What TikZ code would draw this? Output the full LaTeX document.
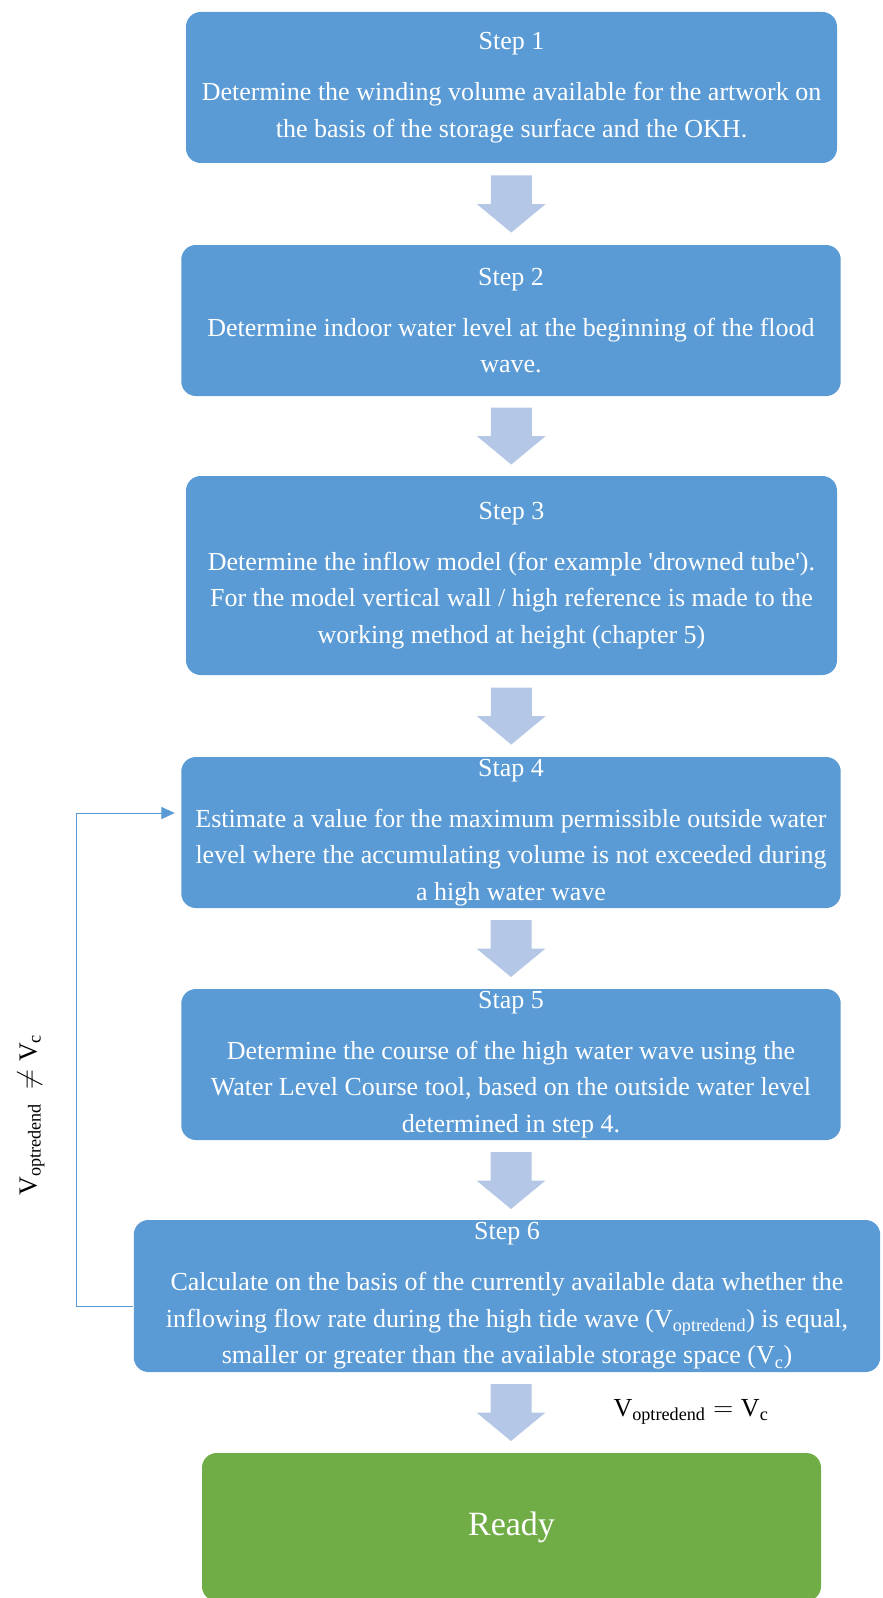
\documentclass[tikz,border=0pt]{standalone}
\usepackage{fontspec}
\setmainfont{Liberation Serif}[Ligatures=TeXOff]
\usetikzlibrary{calc,arrows.meta}

\definecolor{stepblue}{RGB}{91,155,213}
\definecolor{arrowblue}{RGB}{180,199,231}
\definecolor{readygreen}{RGB}{112,173,71}

\tikzset{every picture/.style={line width=0.75pt}}

\begin{document}
\begin{tikzpicture}[x=0.75pt,y=0.75pt,yscale=-1,xscale=1,
  stepbox/.style={fill=stepblue, rounded corners=11pt, text=white, align=center, inner sep=0pt,
    font=\fontsize{19.5}{27.4}\selectfont},
  readybox/.style={fill=readygreen, rounded corners=11pt, text=white, inner sep=0pt,
    font=\fontsize{25.5}{30}\selectfont},
  condlabel/.style={inner sep=0.75pt, font=\fontsize{19.5}{24}\selectfont},
  loopline/.style={draw=stepblue, line width=0.75pt, -{Triangle[length=10pt,width=9pt]}},
  blockarrow/.pic={
    \fill [arrowblue] (-20.5,28.5) -- (20.5,28.5) -- (20.5,0) -- (34.5,0) -- (0,-28.5) -- (-34.5,0) -- (-20.5,0) -- cycle ;
  }
]

\useasboundingbox (0,0) rectangle (882,1598);

% steps
\node [stepbox, minimum width=488.25pt, minimum height=113.25pt] (s1) at (511.5,87.5)
  {Step 1\\[11pt]Determine the winding volume available for the artwork on\\the basis of the storage surface and the OKH.};
\node [stepbox, minimum width=494.6pt, minimum height=113.25pt] (s2) at (511,320.5)
  {Step 2\\[11pt]Determine indoor water level at the beginning of the flood\\wave.};
\node [stepbox, minimum width=488.25pt, minimum height=149.25pt] (s3) at (511.5,575.5)
  {Step 3\\[11pt]Determine the inflow model (for example 'drowned tube').\\For the model vertical wall / high reference is made to the\\working method at height (chapter 5)};
\node [stepbox, minimum width=494.6pt, minimum height=113.25pt] (s4) at (511,832.5)
  {Stap 4\\[11pt]Estimate a value for the maximum permissible outside water\\level where the accumulating volume is not exceeded during\\a high water wave};
\node [stepbox, minimum width=494.6pt, minimum height=113.25pt] (s5) at (511,1064.5)
  {Stap 5\\[11pt]Determine the course of the high water wave using the\\Water Level Course tool, based on the outside water level\\determined in step 4.};
\node [stepbox, minimum width=559.8pt, minimum height=114pt] (s6) at (507,1296)
  {Step 6\\[11pt]Calculate on the basis of the currently available data whether the\\inflowing flow rate during the high tide wave ($\mathrm{V}_{\mathrm{optredend}}$) is equal,\\smaller or greater than the available storage space ($\mathrm{V}_{\mathrm{c}}$)};
\node [readybox, minimum width=464.25pt, minimum height=111pt] (done) at (511.5,1527) {Ready};

% block arrows between the steps
\pic at ($(s1.south)!0.5!(s2.north)$) {blockarrow};
\pic at ($(s2.south)!0.5!(s3.north)$) {blockarrow};
\pic at ($(s3.south)!0.5!(s4.north)$) {blockarrow};
\pic at ($(s4.south)!0.5!(s5.north)$) {blockarrow};
\pic at (511,1180.5) {blockarrow};
\pic at (511,1412.5) {blockarrow};

% feedback from step 6 to step 4
\coordinate (back) at (76.5,1306);
\coordinate (entry) at (76.5,813);
\draw [loopline, shorten >=4.5pt] (s6.west |- back) -- (back) -- (entry) -- (s4.west |- entry);

\node [condlabel, rotate=90] (neq) at (31,1115) {$\mathrm{V}_{\mathrm{optredend}}\ \neq \mathrm{V}_{\mathrm{c}}$};
\node [condlabel] (eq) at (691,1412) {$\mathrm{V}_{\mathrm{optredend}} = \mathrm{V}_{\mathrm{c}}$};

\end{tikzpicture}
\end{document}
